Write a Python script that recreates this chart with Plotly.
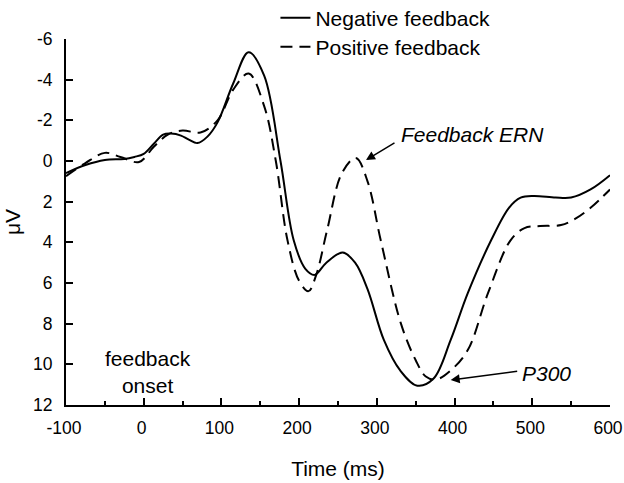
import plotly.graph_objects as go

# ---- data ----
neg_t = [-100, -75, -50, -25, -12, 0, 13, 25, 35, 48, 58, 69, 82, 95, 115, 135, 155,
         176, 193, 208, 220, 235, 256, 272, 288, 309, 330, 352, 373, 395, 417, 447,
         470, 485, 502, 530, 550, 575, 600]
neg_v = [0.6, 0.2, -0.05, -0.1, -0.2, -0.35, -0.85, -1.3, -1.35, -1.25, -1.05, -0.88,
         -1.2, -1.9, -3.8, -5.35, -4.2, 0.0, 3.9, 5.3, 5.6, 5.0, 4.5, 5.0, 6.3, 8.8,
         10.3, 11.05, 10.7, 8.8, 6.5, 3.9, 2.3, 1.8, 1.72, 1.8, 1.8, 1.4, 0.7]

pos_t = [-100, -75, -50, -30, -6, 13, 31, 50, 73, 95, 115, 135, 155, 170, 185, 200,
         212, 222, 236, 255, 273, 288, 305, 331, 350, 363, 376, 395, 417, 443, 472,
         490, 510, 537, 555, 575, 600]
pos_v = [0.75, 0.1, -0.4, -0.2, 0.05, -0.7, -1.3, -1.5, -1.4, -2.0, -3.5, -4.3, -2.7,
         0.0, 3.9, 5.9, 6.4, 5.6, 3.4, 0.6, -0.15, 1.0, 3.9, 8.0, 9.8, 10.6, 10.75,
         10.3, 9.3, 6.5, 3.9, 3.3, 3.2, 3.15, 2.85, 2.3, 1.4]

series_names = ["Negative feedback", "Positive feedback"]
x_ticks = [-100, 0, 100, 200, 300, 400, 500, 600]
x_labels = ["-100", "0", "100", "200", "300", "400", "500", "600"]
y_ticks = [-6, -4, -2, 0, 2, 4, 6, 8, 10, 12]
y_labels = ["-6", "-4", "-2", "0", "2", "4", "6", "8", "10", "12"]

FONT = "Arial, Liberation Sans, sans-serif"

fig = go.Figure()
fig.add_trace(go.Scatter(x=neg_t, y=neg_v, mode="lines", name=series_names[0],
                         line=dict(color="black", width=2, shape="spline", smoothing=1.0),
                         legend="legend"))
fig.add_trace(go.Scatter(x=pos_t, y=pos_v, mode="lines", name=series_names[1],
                         line=dict(color="black", width=2, dash="12px,7px",
                                   shape="spline", smoothing=1.0),
                         legend="legend2"))

fig.update_layout(
    width=624, height=483,
    margin=dict(l=66, r=14, t=39, b=78, autoexpand=False),
    paper_bgcolor="white", plot_bgcolor="white",
    font=dict(family=FONT, size=17.5, color="black"),
    legend=dict(x=0.385, y=1.057, xanchor="left", yanchor="middle",
                font=dict(size=21), bgcolor="rgba(0,0,0,0)"),
    legend2=dict(x=0.385, y=0.978, xanchor="left", yanchor="middle",
                 font=dict(size=21), bgcolor="rgba(0,0,0,0)"),
    xaxis=dict(range=[-100, 600], tickvals=x_ticks, ticktext=x_labels,
               ticks="inside", ticklen=7,
               tickwidth=2, tickcolor="black", showline=True, linewidth=2,
               linecolor="black", showgrid=False, zeroline=False,
               minor=dict(ticks="inside", dtick=50, ticklen=4),
               automargin=False, ticklabeloverflow="allow", ticklabelstandoff=6,
               ticklabelshift=-2,
               title=dict(text="Time (ms)", font=dict(size=21), standoff=24)),
    yaxis=dict(range=[12, -6], tickvals=y_ticks, ticktext=y_labels,
               ticks="inside", ticklen=7,
               tickwidth=2, tickcolor="black", showline=True, linewidth=2,
               linecolor="black", showgrid=False, zeroline=False,
               automargin=False, ticklabelstandoff=8,
               title=dict(text="μV", font=dict(size=21), standoff=7)),
    showlegend=True,
)

# annotations
fig.add_annotation(x=286, y=-0.05, ax=30, ay=-18, text="", showarrow=True,
                   arrowhead=2, arrowsize=1.2, arrowwidth=1.5, arrowcolor="black")
fig.add_annotation(x=329, y=-1.3, text="<i>Feedback ERN</i>", showarrow=False,
                   xanchor="left", yanchor="middle", font=dict(size=21))
fig.add_annotation(x=395, y=10.77, ax=68, ay=-9, text="", showarrow=True,
                   arrowhead=2, arrowsize=1.2, arrowwidth=1.5, arrowcolor="black")
fig.add_annotation(x=484, y=10.45, text="<i>P300</i>", showarrow=False,
                   xanchor="left", yanchor="middle", font=dict(size=21))
fig.add_annotation(x=6, y=10.38, text="feedback<br>onset", showarrow=False,
                   xanchor="center", yanchor="middle", font=dict(size=21))

fig.write_html("out.html",
               config={"displayModeBar": False},
               post_script="document.body.style.margin='0';"
                           "document.body.style.overflow='hidden';")
